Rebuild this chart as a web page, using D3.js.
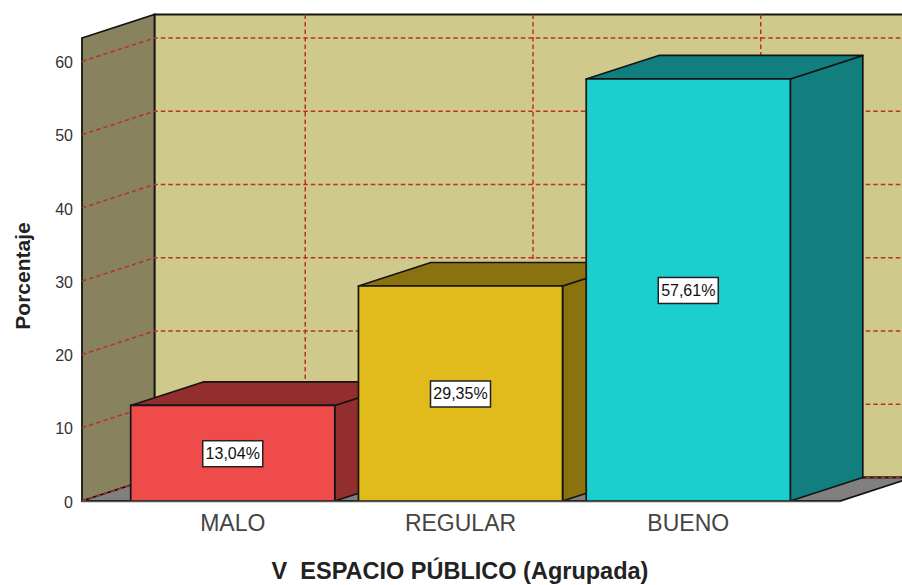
<!DOCTYPE html>
<html><head><meta charset="utf-8">
<script src="https://cdn.jsdelivr.net/npm/d3@7/dist/d3.min.js"></script>
<style>html,body{margin:0;padding:0;background:#fff;overflow:hidden}svg{display:block;font-family:"Liberation Sans",Arial,sans-serif}</style>
</head><body><div id="chart"></div>
<script>
const categories = ["MALO","REGULAR","BUENO"];
const percentages = [13.04,29.35,57.61];
const valueLabels = ["13,04%","29,35%","57,61%"];
const yTicks = [0,10,20,30,40,50,60];
const frontColors = ["#EF4B4B","#E1BA1B","#1BCFCF"];
const sideColors = ["#922E2E","#8A7210","#127F7F"];
const xTitle = "V  ESPACIO PÚBLICO (Agrupada)";
const yTitle = "Porcentaje";

const W = 902, H = 585;
const dx = 72.5, dy = -23.5;
const y = d3.scaleLinear().domain([0,63.2]).range([501,38]);
const x = d3.scaleBand().domain(categories).range([81.5,839.5]).paddingInner(0.104).paddingOuter(0.216);
const y0 = y(0), yMax = y(63.2), xL = 82, xR = 840;
const svg = d3.select("#chart").append("svg").attr("width",W).attr("height",H);
const pts = a => a.map(p=>p.join(",")).join(" ");
const INK = "#141414", GRID = "#B5332A";

// back wall, side wall, floor
svg.append("polygon").attr("points",pts([[xL+dx,yMax+dy],[W+20,yMax+dy],[W+20,y0+dy],[xL+dx,y0+dy]]))
  .attr("fill","#CFC98C").attr("stroke",INK).attr("stroke-width",1.8);
svg.append("polygon").attr("points",pts([[xL,yMax],[xL+dx,yMax+dy],[xL+dx,y0+dy],[xL,y0]]))
  .attr("fill","#88835E").attr("stroke",INK).attr("stroke-width",1.8);
svg.append("polygon").attr("points",pts([[xL,y0],[xL+dx,y0+dy],[xR+dx,y0+dy],[xR,y0]]))
  .attr("fill","#808080").attr("stroke",INK).attr("stroke-width",1.8);

// gridlines
const grid = svg.append("g").attr("fill","none").attr("stroke",GRID).attr("stroke-width",1.5).attr("stroke-dasharray","4.5 3");
yTicks.forEach(t=>{
  grid.append("polyline").attr("points",pts([[xL,y(t)],[xL+dx,y(t)+dy],[W+20,y(t)+dy]]));
});
categories.forEach(c=>{
  const cx = x(c)+x.bandwidth()/2+dx;
  grid.append("line").attr("x1",cx).attr("x2",cx).attr("y1",yMax+dy).attr("y2",y0+dy);
});

// bars
const bars = svg.append("g").selectAll("g").data(categories).join("g");
bars.each(function(c,i){
  const g = d3.select(this), l = x(c), r = l+x.bandwidth(), t = y(percentages[i]);
  const st = {stroke:INK,"stroke-width":1.7,"stroke-linejoin":"round"};
  const add = (p,f)=>{const e=g.append("polygon").attr("points",pts(p)).attr("fill",f);Object.entries(st).forEach(([k,v])=>e.attr(k,v));};
  add([[r,t],[r+dx,t+dy],[r+dx,y0+dy],[r,y0]],sideColors[i]);
  add([[l,t],[l+dx,t+dy],[r+dx,t+dy],[r,t]],sideColors[i]);
  add([[l,t],[r,t],[r,y0],[l,y0]],frontColors[i]);
  const cx=(l+r)/2, cy=(t+y0)/2;
  const bw=60,bh=26;
  g.append("rect").attr("x",cx-bw/2).attr("y",cy-bh/2+0.5).attr("width",bw).attr("height",bh)
    .attr("fill","#fff").attr("stroke","#222").attr("stroke-width",1.5);
  g.append("text").attr("x",cx).attr("y",cy+6).attr("text-anchor","middle").attr("font-size",16).attr("fill","#111").text(valueLabels[i]);
});

// axes
const yAxis = svg.append("g").attr("transform",`translate(${xL},1)`).call(d3.axisLeft(y).tickValues(yTicks).tickSize(0).tickPadding(9));
yAxis.select(".domain").remove();
yAxis.selectAll("text").attr("font-size",16).attr("font-family","inherit").attr("fill","#333");
const xAxis = svg.append("g").attr("transform",`translate(0,${y0})`).call(d3.axisBottom(x).tickSize(0).tickPadding(14));
xAxis.select(".domain").attr("stroke","#555").attr("stroke-width",1.5);
xAxis.selectAll("text").attr("font-size",23).attr("font-family","inherit").attr("fill","#444");

svg.append("text").attr("x",460).attr("y",579).attr("text-anchor","middle").attr("font-size",23.5).attr("font-weight","bold").attr("fill","#222").style("white-space","pre").text(xTitle);
svg.append("text").attr("transform","translate(30,276) rotate(-90)").attr("text-anchor","middle").attr("font-size",21).attr("font-weight","bold").attr("fill","#222").text(yTitle);
</script></body></html>
